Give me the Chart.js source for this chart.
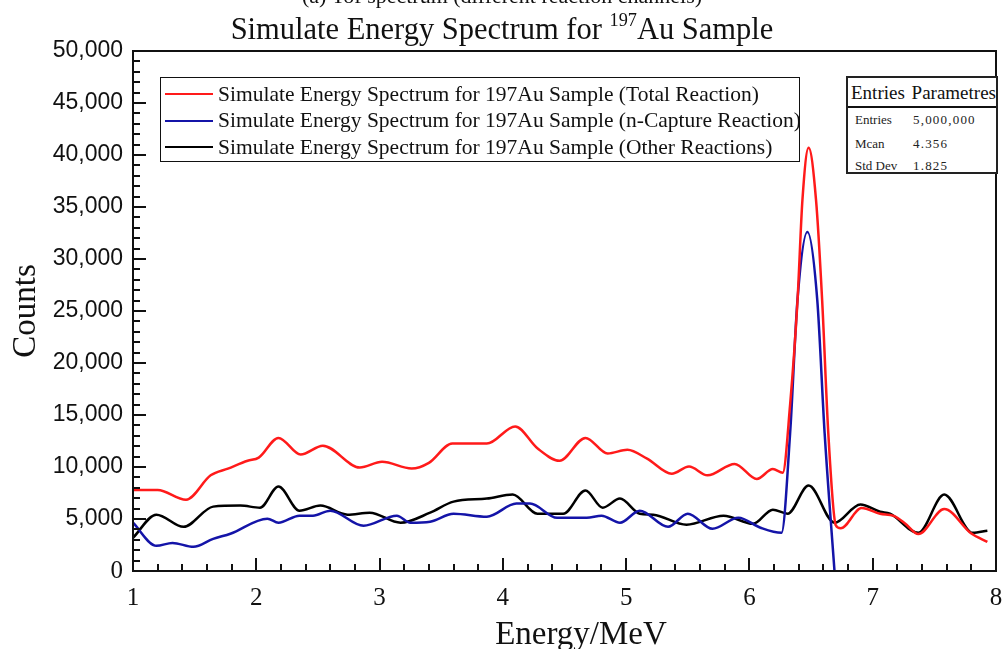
<!DOCTYPE html>
<html>
<head>
<meta charset="utf-8">
<script src="https://cdn.jsdelivr.net/npm/chart.js@4.4.1/dist/chart.umd.min.js"></script>
<style>
    body { margin: 0; background: #fff; }
    #wrap { position: relative; width: 1004px; height: 649px; overflow: hidden; font-family: "Liberation Serif", "DejaVu Serif", serif; color: #111; }
    #chart { position: absolute; left: 0; top: 0; }
    .caption { position: absolute; left: 0; width: 1004px; text-align: center; white-space: nowrap; }
    #cap-top { top: -15px; font-size: 22px; line-height: 22px; }
    #cap-title { top: 14px; font-size: 30.5px; line-height: 31px; }
    #cap-title sup { font-size: 60%; line-height: 0; vertical-align: 0.7em; }
    #legend { position: absolute; left: 160px; top: 77px; width: 638px; height: 83px; border: 1.5px solid #111; background: #fff; }
    .lg-row { position: absolute; left: 4px; height: 26px; display: flex; align-items: center; font-size: 21.5px; white-space: nowrap; }
    .lg-line { width: 48px; height: 0; border-top: 2.5px solid; margin-right: 5px; }
    #stats { position: absolute; left: 846px; top: 76px; width: 148px; height: 94px; border: 2px solid #222; background: #fff; }
    #stats .hd { height: 28px; line-height: 30px; font-size: 19px; padding-left: 3px; word-spacing: 2px; border-bottom: 2.5px solid #111; white-space: nowrap; }
    #stats .row { position: absolute; left: 7px; font-size: 13px; white-space: nowrap; color: #222; }
    #stats .row span { position: absolute; left: 58px; letter-spacing: 1.2px; }
</style>
</head>
<body>
<div id="wrap">
    <canvas id="chart" width="1004" height="649"></canvas>
    <div class="caption" id="cap-top">(a) Tof spectrum (different reaction channels)</div>
    <div class="caption" id="cap-title">Simulate Energy Spectrum for <sup>197</sup>Au Sample</div>
    <div id="legend"></div>
    <div id="stats">
        <div class="hd">Entries Parametres</div>
        <div class="row" style="top:34px">Entries<span>5,000,000</span></div>
        <div class="row" style="top:58px">Mcan<span>4.356</span></div>
        <div class="row" style="top:80px">Std Dev<span>1.825</span></div>
    </div>
</div>
<script>
// Energy (MeV) / counts, one pair of arrays per channel
const totalEnergy = [1.00, 1.20, 1.43, 1.63, 1.77, 1.93, 2.02, 2.18, 2.36, 2.54, 2.84, 3.02, 3.26, 3.40, 3.59, 3.87,
    4.10, 4.28, 4.46, 4.67, 4.85, 5.01, 5.17, 5.37, 5.51, 5.66, 5.88, 6.06, 6.19, 6.27, 6.33, 6.39, 6.43, 6.48,
    6.54, 6.59, 6.64, 6.70, 6.74, 6.91, 7.06, 7.17, 7.26, 7.37, 7.58, 7.80, 7.93];
const totalCounts = [7800, 7800, 6850, 9200, 9850, 10600, 10900, 12800, 11200, 12050, 9950, 10500, 9850, 10400, 12250, 12250,
    13900, 11800, 10600, 12800, 11300, 11650, 10800, 9350, 10050, 9200, 10300, 8850, 9800, 9450, 16000, 26000, 35700, 40700,
    35700, 26000, 13200, 4400, 4100, 6050, 5500, 5300, 4600, 3550, 5950, 3600, 2800];

const captureEnergy = [1.00, 1.19, 1.32, 1.49, 1.65, 1.79, 2.09, 2.18, 2.35, 2.46, 2.60, 2.87, 3.14, 3.25, 3.41, 3.60,
    3.87, 4.11, 4.22, 4.44, 4.68, 4.80, 4.95, 5.11, 5.34, 5.50, 5.70, 5.91, 6.09, 6.26, 6.33, 6.39, 6.47, 6.55,
    6.61, 6.69];
const captureCounts = [4640, 2420, 2700, 2320, 3090, 3580, 5030, 4640, 5320, 5320, 5800, 4350, 5320, 4640, 4740, 5510,
    5220, 6480, 6480, 5120, 5120, 5320, 4640, 5800, 4250, 5510, 4060, 5120, 4160, 3670, 13250, 26100, 32600, 26100,
    13250, 0];

const otherEnergy = [1.00, 1.19, 1.41, 1.65, 1.87, 2.03, 2.18, 2.35, 2.52, 2.74, 2.92, 3.17, 3.41, 3.60, 3.87, 4.08,
    4.28, 4.49, 4.67, 4.81, 4.95, 5.11, 5.22, 5.49, 5.79, 6.03, 6.19, 6.31, 6.48, 6.69, 6.90, 7.06, 7.14, 7.37,
    7.58, 7.81, 7.93];
const otherCounts = [3190, 5420, 4250, 6190, 6290, 6090, 8120, 5800, 6290, 5420, 5610, 4640, 5610, 6670, 6960, 7350,
    5510, 5510, 7740, 6090, 6960, 5510, 5420, 4450, 5320, 4540, 5900, 5510, 8220, 4640, 6400, 5700, 5510, 3670,
    7350, 3670, 3870];

const seriesLabels = [
    'Simulate Energy Spectrum for 197Au Sample (Total Reaction)',
    'Simulate Energy Spectrum for 197Au Sample (n-Capture Reaction)',
    'Simulate Energy Spectrum for 197Au Sample (Other Reactions)'
];
const seriesColors = ['#ff1a1a', '#1414a8', '#000000'];

const xTicks = [1, 2, 3, 4, 5, 6, 7, 8];
const yTicks = [0, 5000, 10000, 15000, 20000, 25000, 30000, 35000, 40000, 45000, 50000];

const SERIF = '"Liberation Serif", "DejaVu Serif", serif';
const SANS = '"Liberation Sans", Arial, sans-serif';

/** zip two arrays into {x, y} points */
function toPoints(xs, ys) {
    return xs.map((x, i) => ({ x, y: ys[i] }));
}

/**
 * Frame around the plot plus inward major/minor ticks (ROOT style).
 */
const frameTicks = {
    id: 'frameTicks',
    afterDraw(chart) {
        const { ctx, chartArea: a, scales: { x, y } } = chart;
        ctx.save();
        ctx.strokeStyle = '#111';
        ctx.lineWidth = 2;
        ctx.strokeRect(a.left, a.top, a.right - a.left, a.bottom - a.top);

        ctx.beginPath();
        for (let i = 0; i <= 35; i++) {
            const v = xTicks[0] + i * 0.2;
            const px = Math.round(x.getPixelForValue(v));
            const len = i % 5 === 0 ? 13 : 7;
            ctx.moveTo(px, a.bottom);
            ctx.lineTo(px, a.bottom - len);
        }
        for (let i = 0; i <= 50; i++) {
            const py = Math.round(y.getPixelForValue(i * 1000));
            const len = i % 5 === 0 ? 13 : 7;
            ctx.moveTo(a.left, py);
            ctx.lineTo(a.left + len, py);
        }
        ctx.stroke();
        ctx.restore();
    }
};

function buildLegend() {
    const box = document.getElementById('legend');
    box.innerHTML = seriesLabels.map((t, i) => `
        <div class="lg-row" style="top:${3 + i * 26.5}px">
            <div class="lg-line" style="border-color:${seriesColors[i]}"></div>${t}
        </div>`).join('');
}

function buildChart() {
    const ctx = document.getElementById('chart');
    const data = [
        toPoints(totalEnergy, totalCounts),
        toPoints(captureEnergy, captureCounts),
        toPoints(otherEnergy, otherCounts)
    ];

    new Chart(ctx, {
        type: 'line',
        data: {
            datasets: data.map((d, i) => ({
                label: seriesLabels[i],
                data: d,
                borderColor: seriesColors[i],
                borderWidth: 2.5,
                pointRadius: 0,
                cubicInterpolationMode: 'monotone',
                fill: false
            }))
        },
        options: {
            responsive: false,
            animation: false,
            devicePixelRatio: 1,
            layout: { padding: { top: 51, right: 8, left: 0, bottom: 0 } },
            plugins: { legend: { display: false }, tooltip: { enabled: false } },
            scales: {
                x: {
                    type: 'linear',
                    min: xTicks[0],
                    max: xTicks[xTicks.length - 1],
                    afterBuildTicks: s => { s.ticks = xTicks.map(v => ({ value: v })); },
                    // fixed height; drop the label overhang padding so the plot reaches x=996
                    afterFit: s => { s.height = 78; s.paddingLeft = 0; s.paddingRight = 0; },
                    grid: { display: false, drawTicks: false },
                    border: { display: false },
                    ticks: { color: '#111', padding: 12, font: { family: SERIF, size: 25 } },
                    title: {
                        display: true,
                        text: '    Energy/MeV',
                        color: '#111',
                        padding: 0,
                        font: { family: SERIF, size: 33, lineHeight: 0.8 }
                    }
                },
                y: {
                    min: yTicks[0],
                    max: yTicks[yTicks.length - 1],
                    afterBuildTicks: s => { s.ticks = yTicks.map(v => ({ value: v })); },
                    afterFit: s => { s.width = 133; s.paddingTop = 0; s.paddingBottom = 0; },
                    grid: { display: false, drawTicks: false },
                    border: { display: false },
                    ticks: {
                        color: '#111',
                        padding: 10,
                        callback: v => v.toLocaleString('en-US'),
                        font: c => (c.tick && c.tick.value === 0)
                            ? { family: SERIF, size: 25 }
                            : { family: SANS, size: 23 }
                    },
                    title: {
                        display: true,
                        text: 'Counts',
                        color: '#111',
                        padding: { top: 7, bottom: 0 },
                        font: { family: SERIF, size: 33 }
                    }
                }
            }
        },
        plugins: [frameTicks]
    });
}

buildLegend();
buildChart();
</script>
</body>
</html>
